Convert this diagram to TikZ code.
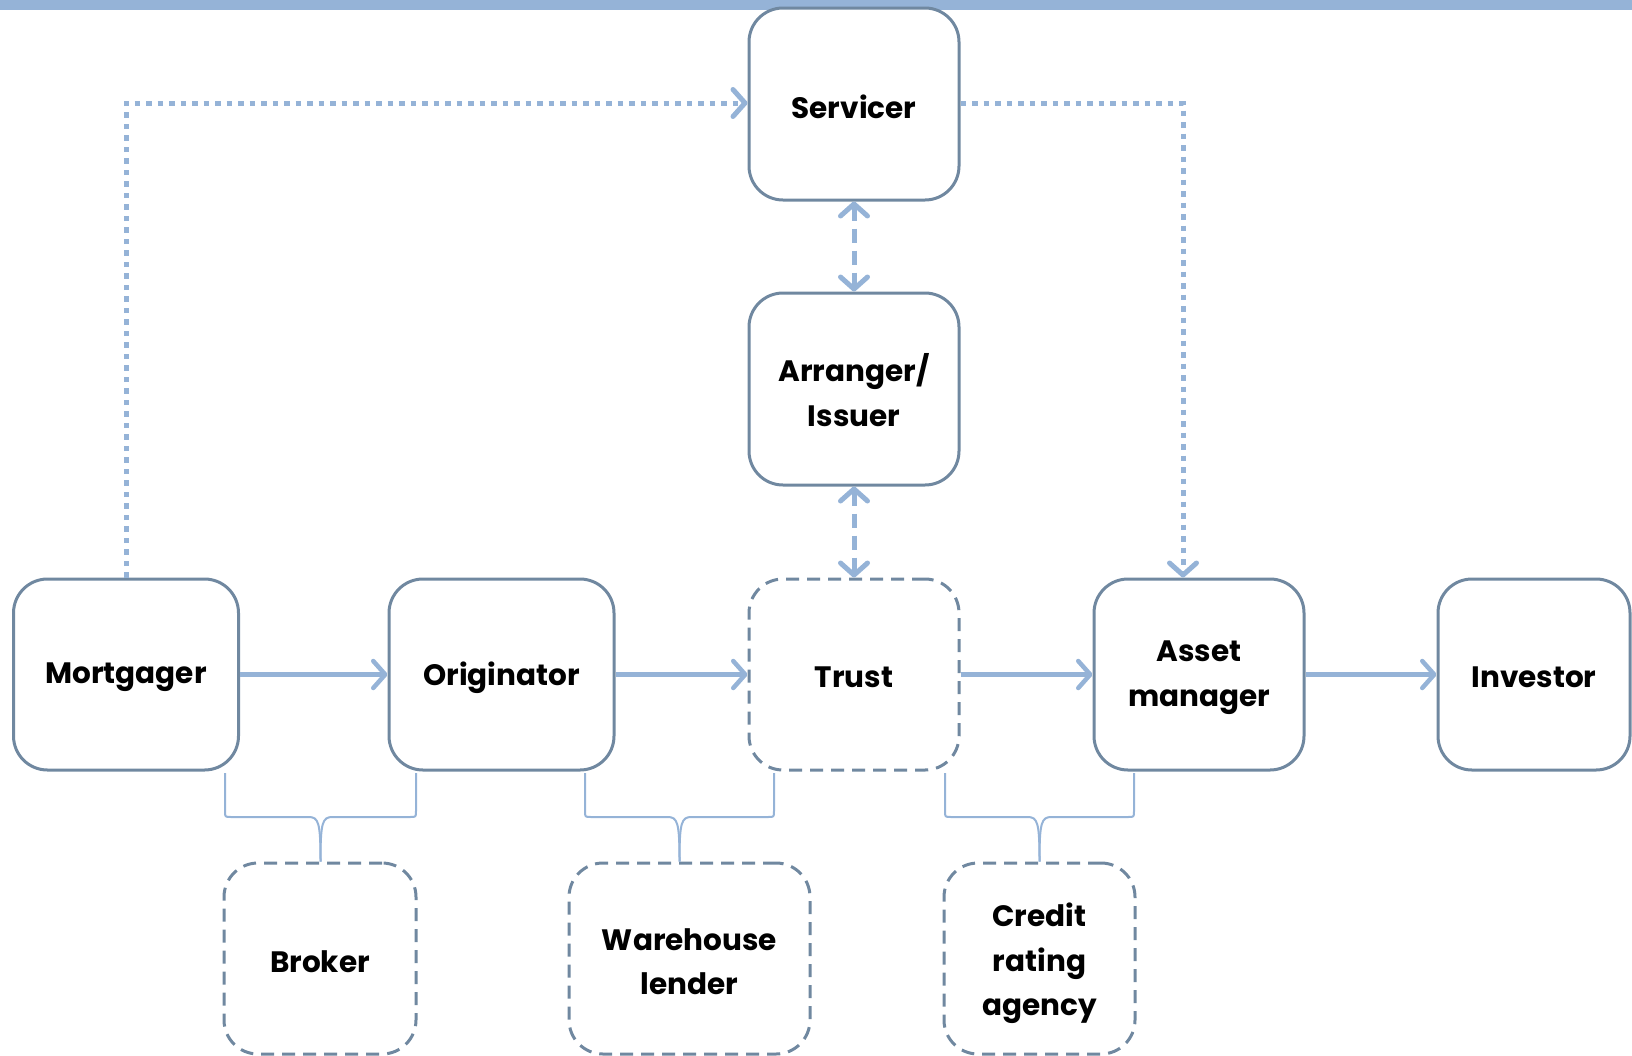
\documentclass[tikz,border=0pt]{standalone}
\usepackage{fontspec}
\setmainfont{Poppins}
\usetikzlibrary{arrows.meta,calc}
\definecolor{bordc}{HTML}{7088A0}
\definecolor{arrc}{HTML}{95B3D7}
\begin{document}
\begin{tikzpicture}[x=1pt,y=-1pt,
  box/.style={draw=bordc, line width=3pt, fill=white, rounded corners=34pt,
    minimum height=191pt, inner sep=0pt},
  dbox/.style={box, dash pattern=on 13pt off 8pt},
  txt/.style={align=center, inner sep=0pt, yshift=-3pt,
    font=\fontsize{29.5}{44.5}\selectfont\bfseries},
  flow/.style={draw=arrc, line width=4.5pt, -{Straight Barb[length=12pt,width=27pt,round]}},
  dflow/.style={draw=arrc, line width=5pt, dash pattern=on 14pt off 8pt,
    {Straight Barb[length=12pt,width=27pt,round]}-{Straight Barb[length=12pt,width=27pt,round]}},
  dotflow/.style={draw=arrc, line width=5pt, dash pattern=on 5.5pt off 6pt,
    -{Straight Barb[length=12pt,width=27pt,round]}},
  brace/.style={draw=arrc, line width=2pt}
]
\useasboundingbox (0,0) rectangle (1632,1055);
\fill[arrc] (0,0) rectangle (1632,10);

\node[box, minimum width=210pt, minimum height=192pt, label={[txt]center:Servicer}] (servicer) at (854,104) {};
\node[box, minimum width=210pt, minimum height=192pt, label={[txt,yshift=2pt]center:Arranger/\\Issuer}] (arranger) at (854,389) {};
\node[dbox, minimum width=210pt, label={[txt]center:Trust}] (trust) at (854,674.5) {};
\node[box, minimum width=225pt, label={[txt]center:Mortgager}] (mortgager) at (126,674.5) {};
\node[box, minimum width=225pt, label={[txt]center:Originator}] (originator) at (501.5,674.5) {};
\node[box, minimum width=210pt, label={[txt]center:Asset\\manager}] (asset) at (1199,674.5) {};
\node[box, minimum width=192pt, label={[txt]center:Investor}] (investor) at (1534,674.5) {};
\node[dbox, minimum width=192pt, label={[txt]center:Broker}] (broker) at (320,958.5) {};
\node[dbox, minimum width=241pt, label={[txt]center:Warehouse\\lender}] (warehouse) at (689.5,958.5) {};
\node[dbox, minimum width=191pt, label={[txt,yshift=-2pt]center:Credit\\rating\\agency}] (credit) at (1039.5,958.5) {};

\draw[flow] (mortgager) -- (originator);
\draw[flow] (originator) -- (trust);
\draw[flow] (trust) -- (asset);
\draw[flow] (asset) -- (investor);

\draw[dflow] (servicer) -- (arranger);
\draw[dflow] (arranger) -- (trust);

\draw[dotflow] (mortgager.north) |- ([yshift=1pt]servicer.west);
\draw[dotflow] ([yshift=1pt]servicer.east) -| ([xshift=-16pt]asset.north);

% braces
\foreach \l/\r/\t in {225/416/broker, 585/774/warehouse, 945/1134/credit}{
  \coordinate (tip) at ({(\l+\r)/2},0);
  \draw[brace] (\l,773) -- (\l,811)
    .. controls (\l,817) .. ({\l+6},817) -- ({(\l+\r)/2-12},817)
    .. controls ({(\l+\r)/2-2},817) and ({(\l+\r)/2},822) .. (\t.north -| tip);
  \draw[brace] (\r,773) -- (\r,811)
    .. controls (\r,817) .. ({\r-6},817) -- ({(\l+\r)/2+12},817)
    .. controls ({(\l+\r)/2+2},817) and ({(\l+\r)/2},822) .. (\t.north -| tip);
}
\end{tikzpicture}
\end{document}
